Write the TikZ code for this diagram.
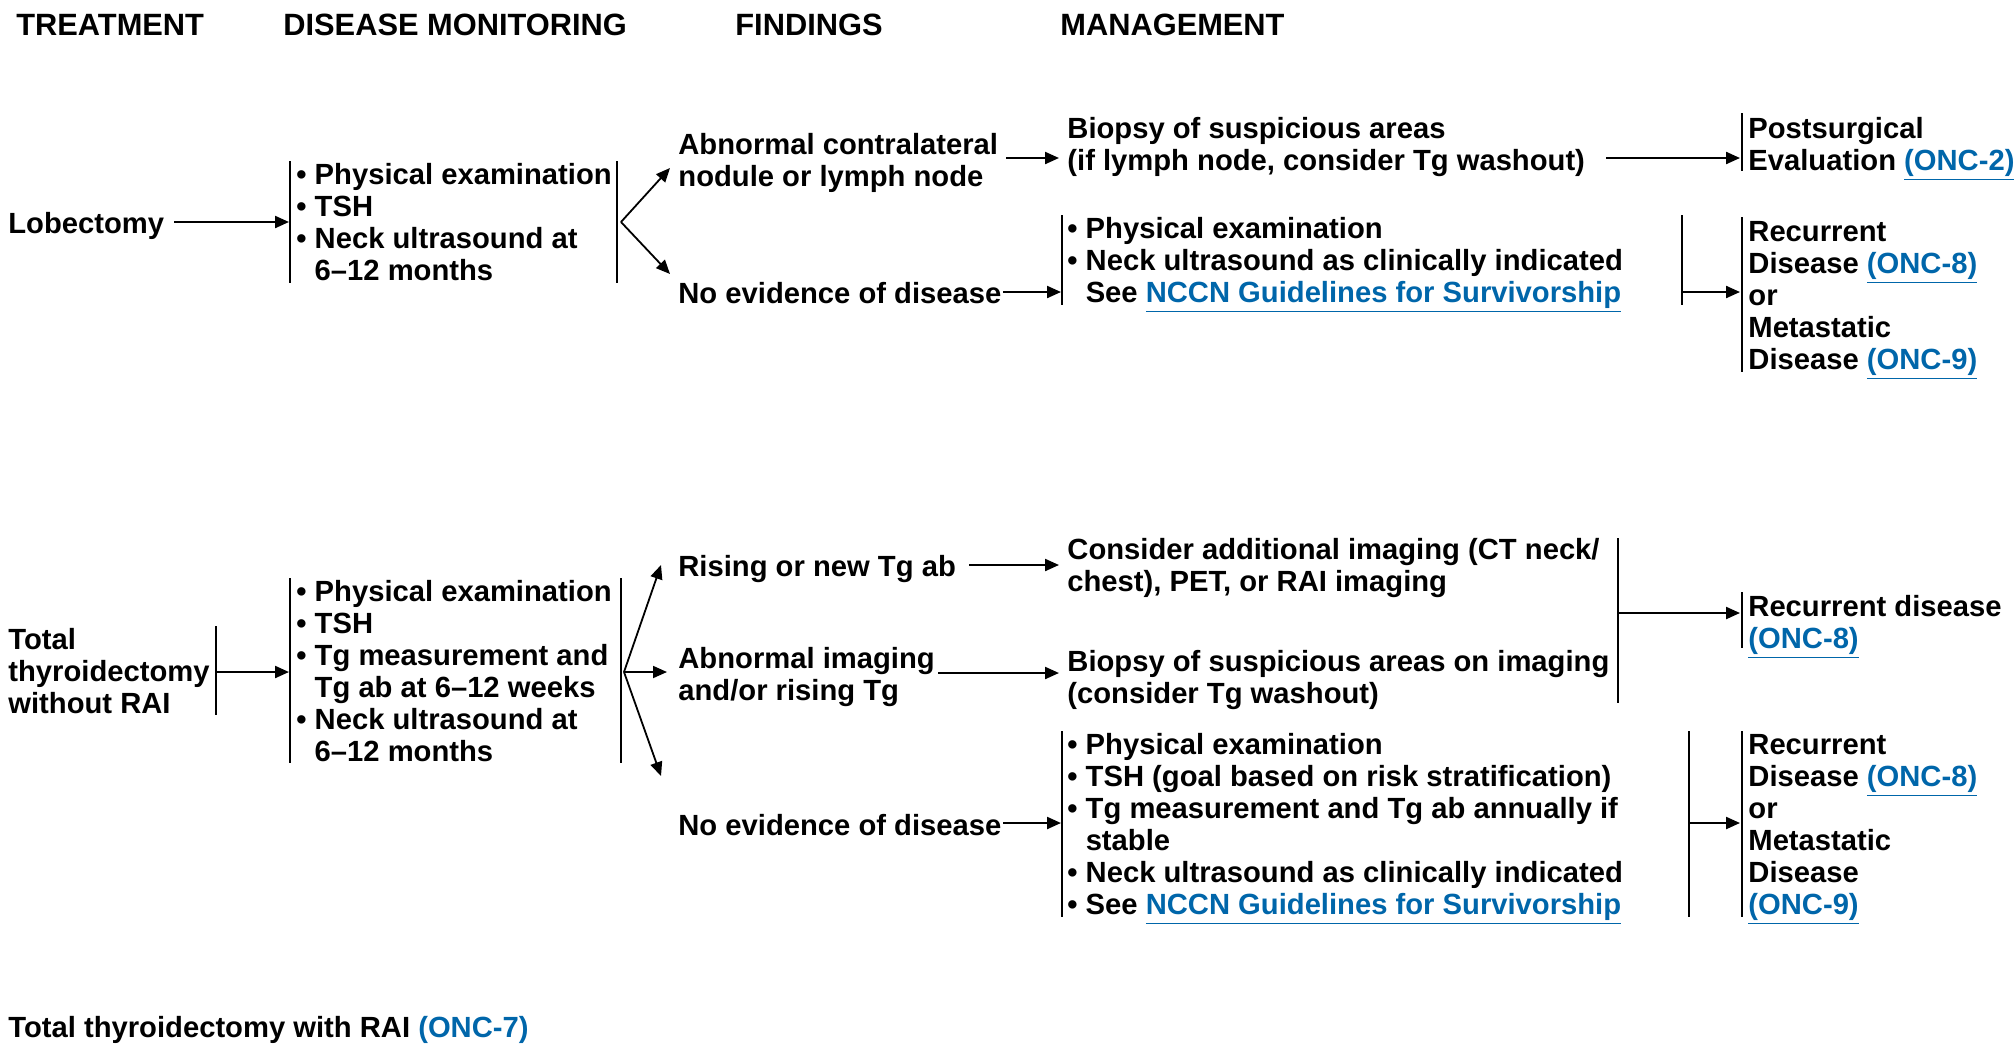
\documentclass[tikz,border=0pt]{standalone}
\usepackage{fontspec}
\setmainfont{Liberation Sans}
\usetikzlibrary{arrows.meta}
\definecolor{linkblue}{RGB}{0,102,170}
\newcommand\lnk[1]{\textcolor{linkblue}{\smash{\underline{#1}}}}
\newcommand\ind{\hphantom{•\ }}
\newcommand\tb[1]{\begin{tabular}[t]{@{}l@{}}#1\end{tabular}}
\newcommand\bodyfont{\fontsize{14.6}{16}\selectfont\bfseries}
\newcommand\hdrfont{\fontsize{15.4}{16}\selectfont\bfseries}
\tikzset{
  txt/.style={anchor=base west, inner sep=0pt, font=\bodyfont, yshift=-0.75pt},
  hdr/.style={anchor=base west, inner sep=0pt, font=\hdrfont},
  arr/.style={-{Triangle[length=7pt,width=6pt]}, line width=1.1pt},
  fork/.style={-{Triangle[length=7pt,width=6pt]}, line width=0.9pt},
  brk/.style={line width=0.85pt},
}
\begin{document}
\begin{tikzpicture}[x=0.5pt,y=-0.5pt]
\useasboundingbox (0,0) rectangle (2016,1045);
% headers
\node[hdr] (h1) at (16,35) {TREATMENT};
\node[hdr] (h2) at (283,35) {DISEASE MONITORING};
\node[hdr] (h3) at (735,35) {FINDINGS};
\node[hdr] (h4) at (1060,35) {MANAGEMENT};

% ===== top section =====
\node[txt] (lob) at (8,232) {Lobectomy};
\node[txt] (m1) at (296,183) {\tb{• Physical examination\\ • TSH\\ • Neck ultrasound at\\ \ind 6–12 months}};
\coordinate (b1t) at (290,161); \coordinate (b1b) at (290,283);
\coordinate (r1t) at (617,161); \coordinate (r1b) at (617,283);
\draw[brk] (b1t) -- (b1b);
\draw[brk] (r1t) -- (r1b);
\coordinate (a1s) at (174,222); \coordinate (a1e) at (289,222);
\draw[arr] (a1s) -- (a1e);
\coordinate (f1) at (621,222);
\coordinate (f1u) at (670,168); \coordinate (f1d) at (670,274);
\draw[fork] (f1) -- (f1u);
\draw[fork] (f1) -- (f1d);

\node[txt] (abn1) at (678,153) {\tb{Abnormal contralateral\\ nodule or lymph node}};
\node[txt] (bio1) at (1067,137) {\tb{Biopsy of suspicious areas\\ (if lymph node, consider Tg washout)}};
\coordinate (a2s) at (1006,158); \coordinate (a2e) at (1059,158);
\draw[arr] (a2s) -- (a2e);
\coordinate (a3s) at (1606,158); \coordinate (a3e) at (1740,158);
\draw[arr] (a3s) -- (a3e);
\coordinate (b2t) at (1742,113); \coordinate (b2b) at (1742,171);
\draw[brk] (b2t) -- (b2b);
\node[txt] (post) at (1748,137) {\tb{Postsurgical\\ Evaluation \lnk{(ONC-2)}}};

\node[txt] (ned1) at (678,302) {No evidence of disease};
\coordinate (a4s) at (1003,292); \coordinate (a4e) at (1061,292);
\draw[arr] (a4s) -- (a4e);
\coordinate (b3t) at (1062,215); \coordinate (b3b) at (1062,305);
\draw[brk] (b3t) -- (b3b);
\node[txt] (m2) at (1067,237) {\tb{• Physical examination\\ • Neck ultrasound as clinically indicated\\ \ind See \lnk{NCCN Guidelines for Survivorship}}};
\coordinate (r3t) at (1682,215); \coordinate (r3b) at (1682,305);
\draw[brk] (r3t) -- (r3b);
\coordinate (a5s) at (1682,292); \coordinate (a5e) at (1740,292);
\draw[arr] (a5s) -- (a5e);
\coordinate (b4t) at (1742,217); \coordinate (b4b) at (1742,372);
\draw[brk] (b4t) -- (b4b);
\node[txt] (rec1) at (1748,240) {\tb{Recurrent\\ Disease \lnk{(ONC-8)}\\ or\\ Metastatic\\ Disease \lnk{(ONC-9)}}};

% ===== bottom section =====
\node[txt] (tot) at (8,648) {\tb{Total\\ thyroidectomy\\ without RAI}};
\coordinate (v1t) at (216,626); \coordinate (v1b) at (216,715);
\draw[brk] (v1t) -- (v1b);
\coordinate (a6e) at (289,672);
\draw[arr] (v1t |- a6e) -- (a6e);
\coordinate (b5t) at (290,578); \coordinate (b5b) at (290,763);
\draw[brk] (b5t) -- (b5b);
\node[txt] (m3) at (296,600) {\tb{• Physical examination\\ • TSH\\ • Tg measurement and\\ \ind Tg ab at 6–12 weeks\\ • Neck ultrasound at\\ \ind 6–12 months}};
\coordinate (r5t) at (621,578); \coordinate (r5b) at (621,763);
\draw[brk] (r5t) -- (r5b);
\coordinate (f2) at (624,672);
\coordinate (f2u) at (661,565); \coordinate (f2m) at (667,672); \coordinate (f2d) at (661,776);
\draw[fork] (f2) -- (f2u);
\draw[fork] (f2) -- (f2m);
\draw[fork] (f2) -- (f2d);

\node[txt] (rise) at (678,575) {Rising or new Tg ab};
\coordinate (a7s) at (969,565); \coordinate (a7e) at (1059,565);
\draw[arr] (a7s) -- (a7e);
\node[txt] (cons) at (1067,558) {\tb{Consider additional imaging (CT neck/\\ chest), PET, or RAI imaging}};

\node[txt] (abn2) at (678,667) {\tb{Abnormal imaging\\ and/or rising Tg}};
\coordinate (a8s) at (938,673); \coordinate (a8e) at (1059,673);
\draw[arr] (a8s) -- (a8e);
\node[txt] (bio2) at (1067,670) {\tb{Biopsy of suspicious areas on imaging\\ (consider Tg washout)}};

\coordinate (v2t) at (1618,538); \coordinate (v2b) at (1618,703);
\draw[brk] (v2t) -- (v2b);
\coordinate (a9e) at (1740,613);
\draw[arr] (v2t |- a9e) -- (a9e);
\coordinate (b6t) at (1742,592); \coordinate (b6b) at (1742,648);
\draw[brk] (b6t) -- (b6b);
\node[txt] (recd) at (1748,615) {\tb{Recurrent disease\\ \lnk{(ONC-8)}}};

\node[txt] (ned2) at (678,834) {No evidence of disease};
\coordinate (a10s) at (1003,823); \coordinate (a10e) at (1061,823);
\draw[arr] (a10s) -- (a10e);
\coordinate (b7t) at (1062,731); \coordinate (b7b) at (1062,917);
\draw[brk] (b7t) -- (b7b);
\node[txt] (m4) at (1067,753) {\tb{• Physical examination\\ • TSH (goal based on risk stratification)\\ • Tg measurement and Tg ab annually if\\ \ind stable\\ • Neck ultrasound as clinically indicated\\ • See \lnk{NCCN Guidelines for Survivorship}}};
\coordinate (r7t) at (1689,731); \coordinate (r7b) at (1689,917);
\draw[brk] (r7t) -- (r7b);
\coordinate (a11s) at (1689,823); \coordinate (a11e) at (1740,823);
\draw[arr] (a11s) -- (a11e);
\coordinate (b8t) at (1742,731); \coordinate (b8b) at (1742,917);
\draw[brk] (b8t) -- (b8b);
\node[txt] (rec2) at (1748,753) {\tb{Recurrent\\ Disease \lnk{(ONC-8)}\\ or\\ Metastatic\\ Disease\\ \lnk{(ONC-9)}}};

% footer
\node[txt] (foot) at (8,1036) {Total thyroidectomy with RAI \lnk{(ONC-7)}};
\end{tikzpicture}
\end{document}
